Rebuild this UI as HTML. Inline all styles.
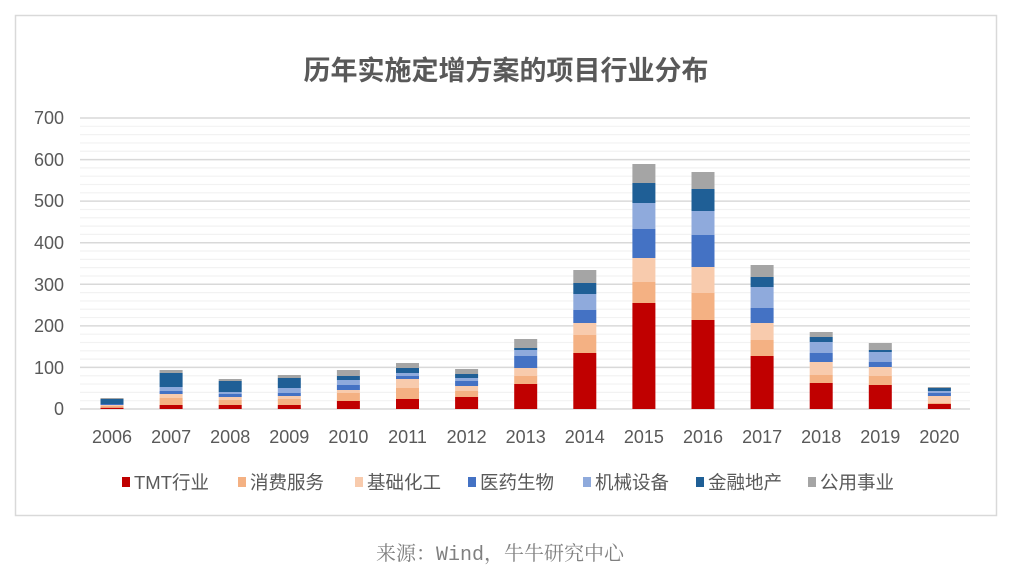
<!DOCTYPE html>
<html><head><meta charset="utf-8"><style>
html,body{margin:0;padding:0;background:#fff;}
body{width:1023px;height:583px;overflow:hidden;position:relative;}
svg text{font-family:"Liberation Sans","Noto Sans CJK SC",sans-serif;}
</style></head><body>
<svg id="s" width="1023" height="583" xmlns="http://www.w3.org/2000/svg">
<rect x="15.5" y="15.5" width="981" height="500" fill="#fff" stroke="#d9d9d9" stroke-width="1.5"/>
<text x="506" y="80" text-anchor="middle" font-size="27" font-weight="bold" fill="#595959">历年实施定增方案的项目行业分布</text>
<g id="grid"></g>
<g id="bars"></g>
<g font-size="18" fill="#595959" text-anchor="end">
<text x="64" y="415">0</text><text x="64" y="374">100</text><text x="64" y="332">200</text><text x="64" y="291">300</text><text x="64" y="249">400</text><text x="64" y="207">500</text><text x="64" y="166">600</text><text x="64" y="124">700</text>
</g>
<g id="xl" font-size="18" fill="#595959" text-anchor="middle"></g>
<g font-size="18.5" fill="#595959">
<rect x="122" y="477" width="8" height="10" fill="#c00000"/><text x="134" y="489">TMT行业</text>
<rect x="238" y="477" width="8" height="10" fill="#f4b183"/><text x="250" y="489">消费服务</text>
<rect x="355" y="477" width="8" height="10" fill="#f8cbad"/><text x="367" y="489">基础化工</text>
<rect x="468" y="477" width="8" height="10" fill="#4472c4"/><text x="480" y="489">医药生物</text>
<rect x="583" y="477" width="8" height="10" fill="#8faadc"/><text x="595" y="489">机械设备</text>
<rect x="696" y="477" width="8" height="10" fill="#1f5f96"/><text x="708" y="489">金融地产</text>
<rect x="808" y="477" width="8" height="10" fill="#a5a5a5"/><text x="820" y="489">公用事业</text>
</g>
<text x="500" y="560" text-anchor="middle" font-size="20" fill="#808080" style="font-family:'Liberation Mono','Noto Serif CJK SC',serif">来源：Wind，牛牛研究中心</text>
</svg>
<script>
var ns="http://www.w3.org/2000/svg";
function el(p,t,a){var e=document.createElementNS(ns,t);for(var k in a)e.setAttribute(k,a[k]);p.appendChild(e);return e;}
var g=document.getElementById("grid");
for(var v=0;v<=700;v+=20){var y=409-v*0.4157;var maj=v%100==0;
el(g,"line",{x1:80,x2:970,y1:y,y2:y,stroke:maj?"#d9d9d9":"#f2f2f2","stroke-width":maj?1.5:1.2});}
var cols=["#c00000","#f4b183","#f8cbad","#4472c4","#8faadc","#1f5f96","#a5a5a5"];
var tops=[
[407.7,406,405,404,404,399,398],
[405,398,394,391,387,373,370],
[405,400,397,394,392,381,379],
[405,399,396,393,388,378,375],
[401,393,390,385,380,376,370],
[399,388,379,376,373,368,363],
[397,391,386,381,378,374,369],
[384,376,368,356,350,348,339],
[353,335,323,310,294,283,270],
[303,282,258,229,203,183,164],
[320,293,267,235,211,189,172],
[356,340,323,308,287,277,265],
[383,375,362,353,342,337,332],
[385,376,367,362,352,350,343],
[404,403,396,393,391,388,387]];
var b=document.getElementById("bars"),xl=document.getElementById("xl");
for(var i=0;i<15;i++){var cx=112+i*59.1;var prev=409;
for(var j=0;j<7;j++){var t=tops[i][j];el(b,"rect",{x:cx-11.5,y:t,width:23,height:Math.max(0,prev-t),fill:cols[j]});prev=t;}
var tx=el(xl,"text",{x:cx,y:443});tx.textContent=2006+i;}
</script>
</body></html>
